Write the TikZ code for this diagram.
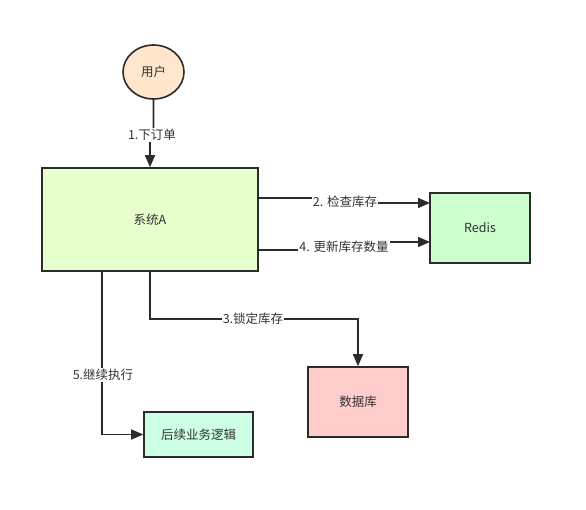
\documentclass[tikz,border=0pt]{standalone}
\usepackage{fontspec}
\setmainfont{Noto Sans CJK SC}
\usetikzlibrary{arrows.meta,backgrounds,shapes.geometric}
\definecolor{edge}{HTML}{2B2B2B}
\definecolor{txt}{HTML}{333333}
\definecolor{userfill}{HTML}{FFE6CC}
\definecolor{sysfill}{HTML}{E6FFCC}
\definecolor{redisfill}{HTML}{CCFFCC}
\definecolor{dbfill}{HTML}{FFCCCC}
\definecolor{nextfill}{HTML}{CCFFE6}
\begin{document}
\begin{tikzpicture}[x=1pt,y=-1pt,
  box/.style={draw=edge,line width=1.6pt,rectangle,inner sep=0pt,text=txt,font=\fontsize{12.5}{14}\selectfont},
  lab/.style={fill=white,inner sep=1pt,text=txt,font=\fontsize{12.5}{14}\selectfont},
  conn/.style={draw=edge,line width=1.6pt},
  arr/.style={conn,-{Triangle[length=12pt,width=10pt]}}]
\useasboundingbox (0,0) rectangle (586,510);
\node[box,ellipse,fill=userfill,minimum width=61pt,minimum height=54pt] (user) at (153.5,72) {用户};
\node[box,fill=sysfill,minimum width=216pt,minimum height=103pt] (sys) at (150,219.5) {系统A};
\node[box,fill=redisfill,minimum width=100pt,minimum height=70pt] (redis) at (480,228) {Redis};
\node[box,fill=dbfill,minimum width=100pt,minimum height=70pt] (db) at (358,402) {数据库};
\node[box,fill=nextfill,minimum width=109pt,minimum height=45pt] (next) at (198.5,434.5) {后续业务逻辑};
\node[lab] (l1) at (152,135) {1.下订单};
\node[lab] (l2) at (345,202) {2. 检查库存};
\node[lab] (l4) at (344,247) {4. 更新库存数量};
\node[lab] (l3) at (253,319) {3.锁定库存};
\node[lab] (l5) at (103,375) {5.继续执行};
\coordinate (s2) at (258,198);
\coordinate (e2) at (430,203);
\coordinate (s4) at (258,250);
\coordinate (e4) at (430,242);
\coordinate (b3) at (150,319);
\coordinate (c3) at (358,319);
\coordinate (s5) at (102,271);
\coordinate (b5) at (102,434.5);
\begin{scope}[on background layer]
\draw[arr] (user.south) -- (user.south |- l1.north) -- (sys.north |- l1.south) -- (sys.north);
\draw[arr] (s2) -- (s2 -| l2.west) -- (e2 -| l2.east) -- (e2);
\draw[arr] (s4) -- (s4 -| l4.west) -- (e4 -| l4.east) -- (e4);
\draw[arr] (sys.south) -- (b3) -- (c3) -- (db.north);
\draw[arr] (s5) -- (b5) -- (next.west);
\end{scope}
\end{tikzpicture}
\end{document}
